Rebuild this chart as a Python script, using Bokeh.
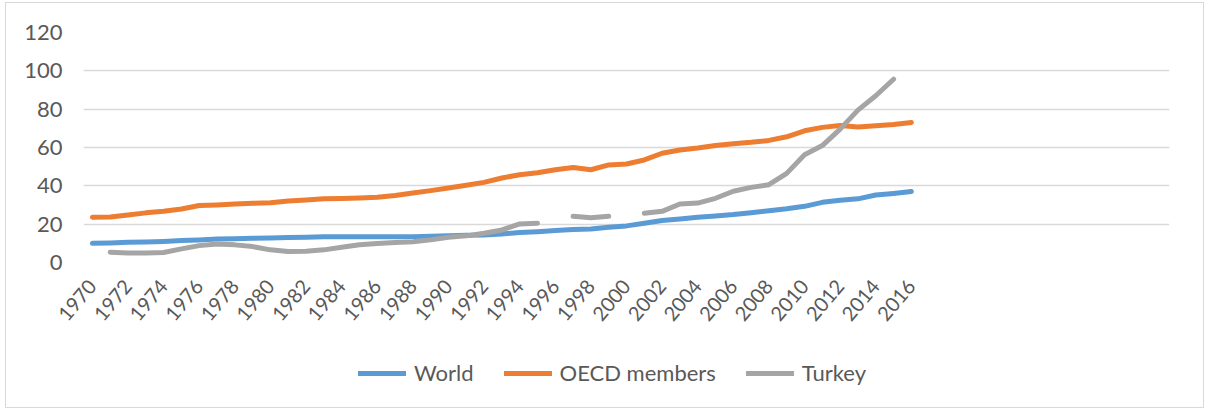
import numpy as np
from bokeh.plotting import figure
from bokeh.layouts import column
from bokeh.models import Legend, LegendItem, FixedTicker, Range1d
from bokeh.embed import file_html
from bokeh.resources import INLINE

years = list(range(1970, 2017))
world = [10.0, 10.2, 10.6, 10.7, 11.0, 11.5, 11.8, 12.2, 12.4, 12.6,
         12.8, 13.0, 13.2, 13.4, 13.4, 13.4, 13.4, 13.4, 13.5, 13.7,
         13.9, 14.2, 14.4, 14.9, 15.6, 16.1, 16.7, 17.2, 17.5, 18.4,
         19.1, 20.5, 21.9, 22.7, 23.6, 24.3, 25.0, 26.0, 27.0, 28.0,
         29.3, 31.4, 32.5, 33.2, 35.2, 36.0, 37.0]
oecd = [23.6, 23.7, 24.8, 25.9, 26.7, 27.9, 29.7, 30.0, 30.5, 30.9,
        31.2, 32.1, 32.6, 33.2, 33.4, 33.7, 34.0, 35.0, 36.3, 37.5,
        38.9, 40.3, 41.8, 44.1, 45.8, 46.8, 48.4, 49.6, 48.4, 50.9,
        51.4, 53.5, 57.0, 58.7, 59.7, 61.0, 62.0, 62.7, 63.7, 65.6,
        68.7, 70.5, 71.5, 70.7, 71.4, 72.0, 73.0]
nan = float("nan")
turkey = [nan, 5.4, 5.0, 5.0, 5.2, 7.1, 8.8, 9.7, 9.2, 8.3,
          6.6, 5.7, 5.9, 6.6, 8.0, 9.3, 9.9, 10.4, 10.8, 11.8,
          13.2, 13.9, 15.3, 17.0, 20.1, 20.5, nan, 24.1, 23.3, 24.1,
          nan, 25.7, 26.7, 30.5, 31.0, 33.5, 37.2, 39.2, 40.6, 46.5,
          56.2, 61.0, 69.6, 79.5, 87.0, 95.6, nan]
x_ticks = list(range(1970, 2017, 2))
y_ticks = [0, 20, 40, 60, 80, 100, 120]
names = ["World", "OECD members", "Turkey"]
colors = ["#5B9BD5", "#ED7D31", "#A5A5A5"]
series = [world, oecd, turkey]

FONT = "Lato"
TXT = "#595959"

p = figure(width=1197, height=337, output_backend="svg", toolbar_location=None,
           x_range=Range1d(1969.5, 2030.5), y_range=Range1d(0, 120),
           min_border_left=77, min_border_right=34, min_border_top=29,
           min_border_bottom=78)
p.outline_line_color = None
p.background_fill_color = "white"
p.border_fill_color = "white"

for ys, c in zip(series, colors):
    p.line(years, ys, line_color=c, line_width=5, line_cap="round", line_join="round")

p.xgrid.grid_line_color = None
p.ygrid.grid_line_color = "#D9D9D9"
p.ygrid.grid_line_width = 1.5
p.yaxis.ticker = FixedTicker(ticks=y_ticks)
p.xaxis.ticker = FixedTicker(ticks=x_ticks)

for ax in [p.xaxis[0], p.yaxis[0]]:
    ax.axis_line_color = None
    ax.major_tick_line_color = None
    ax.minor_tick_line_color = None
    ax.major_tick_out = 0
    ax.major_tick_in = 0
    ax.major_label_text_font = FONT
    ax.major_label_text_color = TXT

p.yaxis.major_label_text_font_size = "22px"
p.yaxis.major_label_standoff = 21
p.xaxis.major_label_text_font_size = "20px"
p.xaxis.major_label_orientation = 0.87
p.xaxis.major_label_standoff = 20

# legend-only strip below the chart (series drawn out of view, only the legend shows)
pl = figure(width=1197, height=67, output_backend="svg", toolbar_location=None,
            x_axis_location=None, y_axis_location=None,
            x_range=Range1d(0, 1), y_range=Range1d(0, 1),
            min_border=0)
pl.outline_line_color = None
pl.grid.visible = False
pl.border_fill_color = "white"
leg_renderers = [pl.line(years, ys, line_color=c, line_width=5, line_cap="round")
                 for ys, c in zip(series, colors)]
legend = Legend(items=[LegendItem(label=n, renderers=[r]) for n, r in zip(names, leg_renderers)],
                orientation="horizontal", location=(275, 21),
                label_text_font=FONT, label_text_color=TXT, label_text_font_size="22px",
                glyph_width=48, glyph_height=24, label_standoff=8, spacing=30,
                padding=0, margin=0, border_line_color=None, background_fill_alpha=0)
pl.add_layout(legend, "center")

layout = column(p, pl, spacing=0)
layout.styles = {"margin-left": "5px", "margin-top": "2px", "border": "1px solid #D9D9D9"}

open("out.html", "w").write(file_html(layout, INLINE))
